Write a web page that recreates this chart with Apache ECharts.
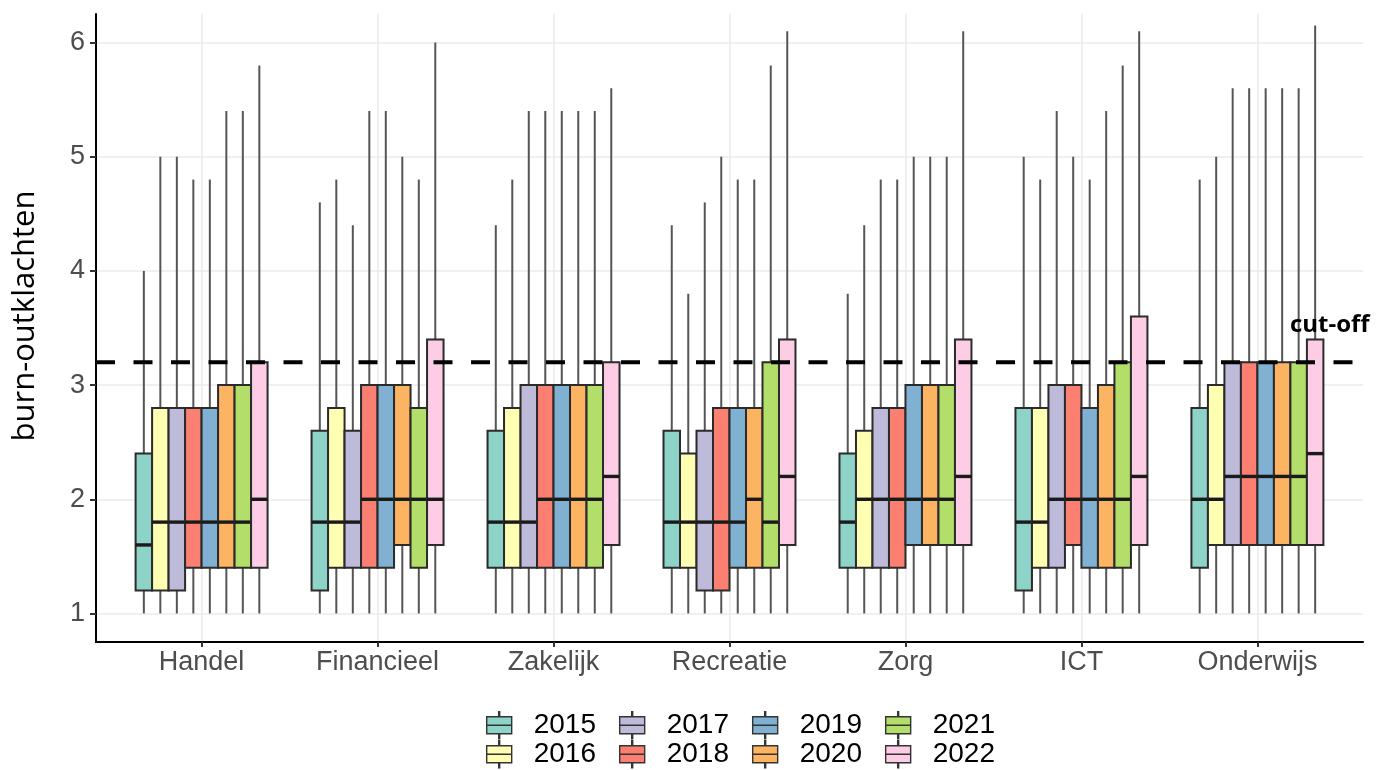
<!DOCTYPE html>
<html>
<head>
<meta charset="utf-8">
<script src="https://cdn.jsdelivr.net/npm/echarts@6/dist/echarts.min.js"></script>
<style>
  html, body { margin: 0; padding: 0; background: #fff; }
  #chart { width: 1376px; height: 770px; }
</style>
</head>
<body>
<div id="chart"></div>
<script>
// ---- DATA ----
const categories = ['Handel', 'Financieel', 'Zakelijk', 'Recreatie', 'Zorg', 'ICT', 'Onderwijs'];
const years = ['2015', '2016', '2017', '2018', '2019', '2020', '2021', '2022'];
const yTicks = [1, 2, 3, 4, 5, 6];
const cutOff = 3.2;
// each entry: [min, Q1, median, Q3, max] per category (Handel ... Onderwijs)
const d2015 = [[1,1.2,1.6,2.4,4.0],[1,1.2,1.8,2.6,4.6],[1,1.4,1.8,2.6,4.4],[1,1.4,1.8,2.6,4.4],[1,1.4,1.8,2.4,3.8],[1,1.2,1.8,2.8,5.0],[1,1.4,2.0,2.8,4.8]];
const d2016 = [[1,1.2,1.8,2.8,5.0],[1,1.4,1.8,2.8,4.8],[1,1.4,1.8,2.8,4.8],[1,1.4,1.8,2.4,3.8],[1,1.4,2.0,2.6,4.4],[1,1.4,1.8,2.8,4.8],[1,1.6,2.0,3.0,5.0]];
const d2017 = [[1,1.2,1.8,2.8,5.0],[1,1.4,1.8,2.6,4.4],[1,1.4,1.8,3.0,5.4],[1,1.2,1.8,2.6,4.6],[1,1.4,2.0,2.8,4.8],[1,1.4,2.0,3.0,5.4],[1,1.6,2.2,3.2,5.6]];
const d2018 = [[1,1.4,1.8,2.8,4.8],[1,1.4,2.0,3.0,5.4],[1,1.4,2.0,3.0,5.4],[1,1.2,1.8,2.8,5.0],[1,1.4,2.0,2.8,4.8],[1,1.6,2.0,3.0,5.0],[1,1.6,2.2,3.2,5.6]];
const d2019 = [[1,1.4,1.8,2.8,4.8],[1,1.4,2.0,3.0,5.4],[1,1.4,2.0,3.0,5.4],[1,1.4,1.8,2.8,4.8],[1,1.6,2.0,3.0,5.0],[1,1.4,2.0,2.8,4.8],[1,1.6,2.2,3.2,5.6]];
const d2020 = [[1,1.4,1.8,3.0,5.4],[1,1.6,2.0,3.0,5.0],[1,1.4,2.0,3.0,5.4],[1,1.4,2.0,2.8,4.8],[1,1.6,2.0,3.0,5.0],[1,1.4,2.0,3.0,5.4],[1,1.6,2.2,3.2,5.6]];
const d2021 = [[1,1.4,1.8,3.0,5.4],[1,1.4,2.0,2.8,4.8],[1,1.4,2.0,3.0,5.4],[1,1.4,1.8,3.2,5.8],[1,1.6,2.0,3.0,5.0],[1,1.4,2.0,3.2,5.8],[1,1.6,2.2,3.2,5.6]];
const d2022 = [[1,1.4,2.0,3.2,5.8],[1,1.6,2.0,3.4,6.0],[1,1.6,2.2,3.2,5.6],[1,1.6,2.2,3.4,6.1],[1,1.6,2.2,3.4,6.1],[1,1.6,2.2,3.6,6.1],[1,1.6,2.4,3.4,6.15]];
const yearData = [d2015, d2016, d2017, d2018, d2019, d2020, d2021, d2022];

// ---- STYLE ----
const colors = ['#8DD3C7', '#FFFFB3', '#BEBADA', '#FB8072', '#80B1D3', '#FDB462', '#B3DE69', '#FCCDE5'];
const DODGE = 0.75;
const BOXW = DODGE / years.length;

function makeRender(j, color) {
  return function (params, api) {
    const x = api.value(0) + (j - (years.length - 1) / 2) * BOXW;
    const pMin = api.coord([x, api.value(1)]);
    const pQ1 = api.coord([x, api.value(2)]);
    const pMed = api.coord([x, api.value(3)]);
    const pQ3 = api.coord([x, api.value(4)]);
    const pMax = api.coord([x, api.value(5)]);
    const w = api.size([BOXW, 0])[0];
    const cx = pMed[0];
    return {
      type: 'group',
      children: [
        { type: 'line', shape: { x1: cx, y1: pMin[1], x2: cx, y2: pQ1[1] }, style: { stroke: '#555', lineWidth: 2 } },
        { type: 'line', shape: { x1: cx, y1: pQ3[1], x2: cx, y2: pMax[1] }, style: { stroke: '#555', lineWidth: 2 } },
        { type: 'rect', shape: { x: cx - w / 2, y: pQ3[1], width: w, height: pQ1[1] - pQ3[1] },
          style: { fill: color, stroke: '#2b2b2b', lineWidth: 2 } },
        { type: 'line', shape: { x1: cx - w / 2, y1: pMed[1], x2: cx + w / 2, y2: pMed[1] },
          style: { stroke: '#1a1a1a', lineWidth: 3.4 } }
      ]
    };
  };
}

const series = years.map(function (yr, j) {
  return {
    name: yr,
    type: 'custom',
    renderItem: makeRender(j, colors[j]),
    itemStyle: { color: colors[j] },
    encode: { x: 0, y: [1, 2, 3, 4, 5] },
    data: yearData[j].map(function (s, i) { return [i + 1].concat(s); }),
    z: 2
  };
});

series.push({
  name: 'cut-off',
  type: 'line',
  data: [[0.4, cutOff], [categories.length + 0.6, cutOff]],
  symbol: 'none',
  silent: true,
  lineStyle: { color: '#000', width: 4, type: [19, 18.5] },
  z: 10
});

const legendIcon = 'path://M0,5 H25 V13.5 H0 Z M0,13.5 H25 V22 H0 Z M12,0 H13 V5 H12 Z M12,22 H13 V27 H12 Z';
function legendRow(names, top) {
  return {
    data: names.map(function (n) { return { name: n, icon: legendIcon }; }),
    orient: 'horizontal',
    left: 486,
    top: top,
    padding: 0,
    itemWidth: 25,
    itemHeight: 27,
    itemGap: 23,
    itemStyle: { borderColor: '#333', borderWidth: 1.4 },
    textStyle: { fontFamily: 'Liberation Sans', fontSize: 28, color: '#000', padding: [0, 0, 0, 17] },
    selectedMode: false
  };
}

const chart = echarts.init(document.getElementById('chart'), null, { renderer: 'canvas' });
chart.setOption({
  animation: false,
  backgroundColor: '#fff',
  grid: { left: 96, right: 13, top: 14, bottom: 128 },
  xAxis: {
    type: 'value',
    min: 0.4,
    max: categories.length + 0.6,
    axisLine: { show: true, lineStyle: { color: '#000', width: 2 } },
    axisTick: { show: true, length: 5, lineStyle: { color: '#333', width: 2 }, customValues: categories.map(function (c, i) { return i + 1; }) },
    axisLabel: {
      customValues: categories.map(function (c, i) { return i + 1; }),
      formatter: function (v) { return categories[Math.round(v) - 1] || ''; },
      fontFamily: 'Liberation Sans', fontSize: 27, color: '#4d4d4d', margin: 7
    },
    splitLine: { show: true, lineStyle: { color: '#ebebeb', width: 1.5 } }
  },
  yAxis: {
    type: 'value',
    min: 0.75,
    max: 6.25,
    axisLine: { show: true, lineStyle: { color: '#000', width: 2 } },
    axisTick: { show: true, length: 6, lineStyle: { color: '#333', width: 2 }, customValues: yTicks },
    axisLabel: { customValues: yTicks, fontFamily: 'Liberation Sans', fontSize: 27, color: '#4d4d4d', margin: 11 },
    splitLine: { show: true, lineStyle: { color: '#ebebeb', width: 1.5 } }
  },
  legend: [
    legendRow(['2015', '2017', '2019', '2021'], 711),
    legendRow(['2016', '2018', '2020', '2022'], 740)
  ],
  graphic: [
    { type: 'text', x: 25, y: 316, rotation: Math.PI / 2,
      style: { text: 'burn-outklachten', font: '31px "Open Sans"', fill: '#000', align: 'center', verticalAlign: 'middle' } },
    { type: 'text', x: 1290, y: 325,
      style: { text: 'cut-off', font: 'bold 24px "Open Sans"', fill: '#000', align: 'left', verticalAlign: 'middle' }, z: 20 }
  ],
  series: series
});
</script>
</body>
</html>
